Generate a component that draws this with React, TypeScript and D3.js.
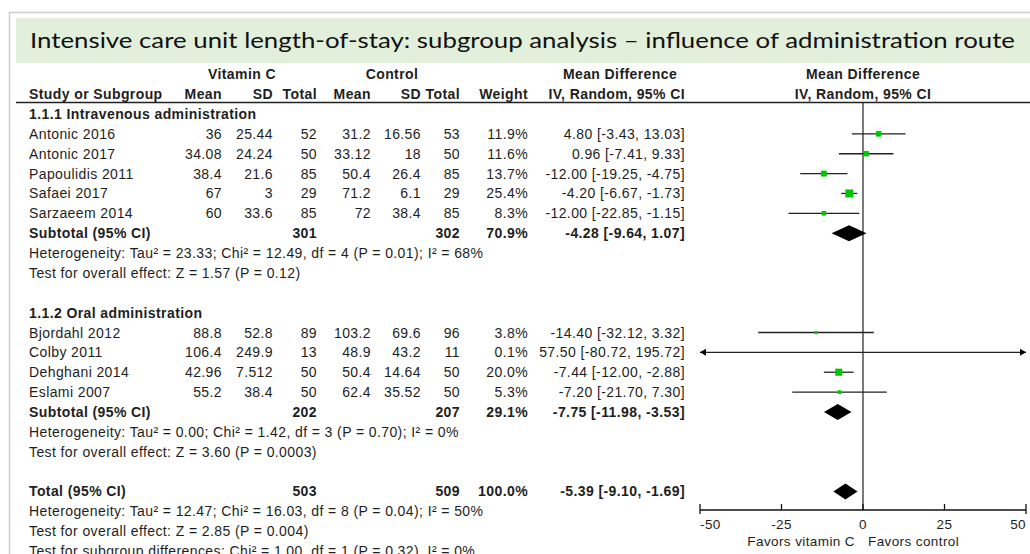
import React from 'react';
import * as d3 from 'd3';

// study level data
const studies = ['Antonic 2016', 'Antonic 2017', 'Papoulidis 2011', 'Safaei 2017', 'Sarzaeem 2014',
  'Bjordahl 2012', 'Colby 2011', 'Dehghani 2014', 'Eslami 2007'];
const studyGroup = [0, 0, 0, 0, 0, 1, 1, 1, 1];
const vitMean = [36, 34.08, 38.4, 67, 60, 88.8, 106.4, 42.96, 55.2];
const vitSD = [25.44, 24.24, 21.6, 3, 33.6, 52.8, 249.9, 7.512, 38.4];
const vitTotal = [52, 50, 85, 29, 85, 89, 13, 50, 50];
const ctlMean = [31.2, 33.12, 50.4, 71.2, 72, 103.2, 48.9, 50.4, 62.4];
const ctlSD = [16.56, 18, 26.4, 6.1, 38.4, 69.6, 43.2, 14.64, 35.52];
const ctlTotal = [53, 50, 85, 29, 85, 96, 11, 50, 50];
const weight = [11.9, 11.6, 13.7, 25.4, 8.3, 3.8, 0.1, 20.0, 5.3];
const md = [4.8, 0.96, -12, -4.2, -12, -14.4, 57.5, -7.44, -7.2];
const ciLow = [-3.43, -7.41, -19.25, -6.67, -22.85, -32.12, -80.72, -12.0, -21.7];
const ciHigh = [13.03, 9.33, -4.75, -1.73, -1.15, 3.32, 195.72, -2.88, 7.3];

// subgroup data
const groupLabels = ['1.1.1 Intravenous administration', '1.1.2 Oral administration'];
const groupVitTotal = [301, 202];
const groupCtlTotal = [302, 207];
const groupWeight = [70.9, 29.1];
const groupMd = [-4.28, -7.75];
const groupLow = [-9.64, -11.98];
const groupHigh = [1.07, -3.53];
const groupHet = [
  'Heterogeneity: Tau\u00b2 = 23.33; Chi\u00b2 = 12.49, df = 4 (P = 0.01); I\u00b2 = 68%',
  'Heterogeneity: Tau\u00b2 = 0.00; Chi\u00b2 = 1.42, df = 3 (P = 0.70); I\u00b2 = 0%',
];
const groupTest = [
  'Test for overall effect: Z = 1.57 (P = 0.12)',
  'Test for overall effect: Z = 3.60 (P = 0.0003)',
];

// overall
const totalN = [503, 509];
const totalWeight = [100.0];
const totalEffect = [-5.39, -9.10, -1.69];
const totalNotes = [
  'Heterogeneity: Tau\u00b2 = 12.47; Chi\u00b2 = 16.03, df = 8 (P = 0.04); I\u00b2 = 50%',
  'Test for overall effect: Z = 2.85 (P = 0.004)',
  'Test for subgroup differences: Chi\u00b2 = 1.00, df = 1 (P = 0.32), I\u00b2 = 0%',
];
const axisTicks = [-50, -25, 0, 25, 50];

const W = 1030;
const H = 554;
const FONT = 'Liberation Sans, Arial, sans-serif';
const TXT = '#1e1e1e';

// column right edges
const col = { vitMean: 222, vitSD: 273, vitTotal: 317, ctlMean: 371, ctlSD: 421, ctlTotal: 460, weight: 528, ci: 685 };

const fmtCI = (m, l, h) => `${m.toFixed(2)} [${l.toFixed(2)}, ${h.toFixed(2)}]`;

function buildLines() {
  const lines = [];
  [0, 1].forEach((g) => {
    lines.push({ kind: 'group', g });
    studies.forEach((s, i) => { if (studyGroup[i] === g) lines.push({ kind: 'study', i }); });
    lines.push({ kind: 'subtotal', g });
    lines.push({ kind: 'note', text: groupHet[g] });
    lines.push({ kind: 'note', text: groupTest[g] });
    lines.push({ kind: 'blank' });
  });
  lines.push({ kind: 'total' });
  totalNotes.forEach((t) => lines.push({ kind: 'note', text: t }));
  return lines;
}

export default function App() {
  const lines = buildLines();
  // line index 0,1 are the header rows
  const y = d3.scaleLinear().domain([2, 24]).range([114, 551]);
  const x = d3.scaleLinear().domain([-50, 50]).range([700, 1026]);
  const size = d3.scaleSqrt().domain([0, 25.4]).range([0, 8]);
  const axisY = 510;
  const base = { fontFamily: FONT, fontSize: 14, fill: TXT, letterSpacing: 0.4 };

  const num = (v, cx, cy, bold = false, key = undefined) => (
    <text key={key} x={cx} y={cy} dy="0.36em" textAnchor="end" {...base} fontWeight={bold ? 'bold' : 'normal'}>{v}</text>
  );

  const diamond = (m, l, h, cy) => {
    const p = d3.path();
    p.moveTo(x(l), cy);
    p.lineTo(x(m), cy - 8);
    p.lineTo(x(h), cy);
    p.lineTo(x(m), cy + 8);
    p.closePath();
    return <path d={p.toString()} fill="#000" />;
  };

  const arrow = (px, cy, dir) => (
    <path d={`M${px},${cy} L${px - dir * 6},${cy - 3.5} L${px - dir * 6},${cy + 3.5} Z`} fill="#000" />
  );

  return (
    <div style={{ position: 'absolute', left: 0, top: 0 }}>
      <svg width={W} height={H} style={{ display: 'block', background: '#fff' }}>
        {/* frame */}
        <line x1={9.5} y1={12} x2={9.5} y2={H} stroke="#cfcfcf" strokeWidth={1.5} />
        <line x1={9} y1={12.5} x2={W} y2={12.5} stroke="#cfcfcf" strokeWidth={1.5} />
        <rect x={16} y={18} width={W - 16} height={45} fill="#e2efda" />
        <text x={30} y={48} fontFamily="Lato, 'Open Sans', sans-serif" fontSize={22} fill="#111"
          textLength={985} lengthAdjust="spacingAndGlyphs">
          Intensive care unit length-of-stay: subgroup analysis – influence of administration route
        </text>

        {/* header */}
        <g {...base} fontWeight="bold">
          <text x={242} y={y(0)} dy="0.36em" textAnchor="middle">Vitamin C</text>
          <text x={392} y={y(0)} dy="0.36em" textAnchor="middle">Control</text>
          <text x={620} y={y(0)} dy="0.36em" textAnchor="middle">Mean Difference</text>
          <text x={x(0)} y={y(0)} dy="0.36em" textAnchor="middle">Mean Difference</text>
          <text x={29} y={y(1)} dy="0.36em">Study or Subgroup</text>
          <text x={col.vitMean} y={y(1)} dy="0.36em" textAnchor="end">Mean</text>
          <text x={col.vitSD} y={y(1)} dy="0.36em" textAnchor="end">SD</text>
          <text x={col.vitTotal} y={y(1)} dy="0.36em" textAnchor="end">Total</text>
          <text x={col.ctlMean} y={y(1)} dy="0.36em" textAnchor="end">Mean</text>
          <text x={col.ctlSD} y={y(1)} dy="0.36em" textAnchor="end">SD</text>
          <text x={col.ctlTotal} y={y(1)} dy="0.36em" textAnchor="end">Total</text>
          <text x={col.weight} y={y(1)} dy="0.36em" textAnchor="end">Weight</text>
          <text x={col.ci} y={y(1)} dy="0.36em" textAnchor="end">IV, Random, 95% CI</text>
          <text x={x(0)} y={y(1)} dy="0.36em" textAnchor="middle">IV, Random, 95% CI</text>
        </g>
        <line x1={16} y1={102.5} x2={W} y2={102.5} stroke="#222" strokeWidth={1.5} />

        {/* zero line */}
        <line x1={x(0)} y1={102} x2={x(0)} y2={axisY} stroke="#222" strokeWidth={1.2} />

        {lines.map((ln, k) => {
          const cy = y(k + 2);
          if (ln.kind === 'group') {
            return <text key={k} x={29} y={cy} dy="0.36em" {...base} fontWeight="bold">{groupLabels[ln.g]}</text>;
          }
          if (ln.kind === 'note') {
            return <text key={k} x={29} y={cy} dy="0.36em" {...base}>{ln.text}</text>;
          }
          if (ln.kind === 'study') {
            const i = ln.i;
            const lo = Math.max(ciLow[i], -50);
            const hi = Math.min(ciHigh[i], 50);
            const s = Math.max(size(weight[i]), 3);
            const inRange = md[i] >= -50 && md[i] <= 50;
            return (
              <g key={k}>
                <text x={29} y={cy} dy="0.36em" {...base}>{studies[i]}</text>
                {num(String(vitMean[i]), col.vitMean, cy)}
                {num(String(vitSD[i]), col.vitSD, cy)}
                {num(String(vitTotal[i]), col.vitTotal, cy)}
                {num(String(ctlMean[i]), col.ctlMean, cy)}
                {num(String(ctlSD[i]), col.ctlSD, cy)}
                {num(String(ctlTotal[i]), col.ctlTotal, cy)}
                {num(`${weight[i].toFixed(1)}%`, col.weight, cy)}
                {num(fmtCI(md[i], ciLow[i], ciHigh[i]), col.ci, cy)}
                <line x1={x(lo)} y1={cy} x2={x(hi)} y2={cy} stroke="#222" strokeWidth={1.3} />
                {ciLow[i] < -50 && arrow(x(-50), cy, -1)}
                {ciHigh[i] > 50 && arrow(x(50), cy, 1)}
                {inRange && (
                  <rect x={x(md[i]) - s / 2} y={cy - s / 2} width={s} height={s} fill="#00c800" />
                )}
              </g>
            );
          }
          if (ln.kind === 'subtotal') {
            const g = ln.g;
            return (
              <g key={k}>
                <text x={29} y={cy} dy="0.36em" {...base} fontWeight="bold">Subtotal (95% CI)</text>
                {num(String(groupVitTotal[g]), col.vitTotal, cy, true)}
                {num(String(groupCtlTotal[g]), col.ctlTotal, cy, true)}
                {num(`${groupWeight[g].toFixed(1)}%`, col.weight, cy, true)}
                {num(fmtCI(groupMd[g], groupLow[g], groupHigh[g]), col.ci, cy, true)}
                {diamond(groupMd[g], groupLow[g], groupHigh[g], cy)}
              </g>
            );
          }
          if (ln.kind === 'total') {
            return (
              <g key={k}>
                <text x={29} y={cy} dy="0.36em" {...base} fontWeight="bold">Total (95% CI)</text>
                {num(String(totalN[0]), col.vitTotal, cy, true)}
                {num(String(totalN[1]), col.ctlTotal, cy, true)}
                {num(`${totalWeight[0].toFixed(1)}%`, col.weight, cy, true)}
                {num(fmtCI(totalEffect[0], totalEffect[1], totalEffect[2]), col.ci, cy, true)}
                {diamond(totalEffect[0], totalEffect[1], totalEffect[2], cy)}
              </g>
            );
          }
          return null;
        })}

        {/* axis */}
        <line x1={x(-50)} y1={axisY} x2={x(50)} y2={axisY} stroke="#111" strokeWidth={1.5} />
        {axisTicks.map((t, i) => (
          <g key={t}>
            <line x1={x(t)} y1={axisY - 6} x2={x(t)} y2={i === 0 || i === axisTicks.length - 1 ? axisY + 4 : axisY}
              stroke="#111" strokeWidth={1.3} />
            <text x={x(t)} y={axisY + 14} dy="0.36em" {...base} fontSize={13.5}
              textAnchor={i === 0 ? 'start' : i === axisTicks.length - 1 ? 'end' : 'middle'}>{t}</text>
          </g>
        ))}
        <text x={x(0) - 8} y={axisY + 31} dy="0.36em" {...base} fontSize={13.5} textAnchor="end">Favors vitamin C</text>
        <text x={x(0) + 5} y={axisY + 31} dy="0.36em" {...base} fontSize={13.5}>Favors control</text>
      </svg>
    </div>
  );
}
